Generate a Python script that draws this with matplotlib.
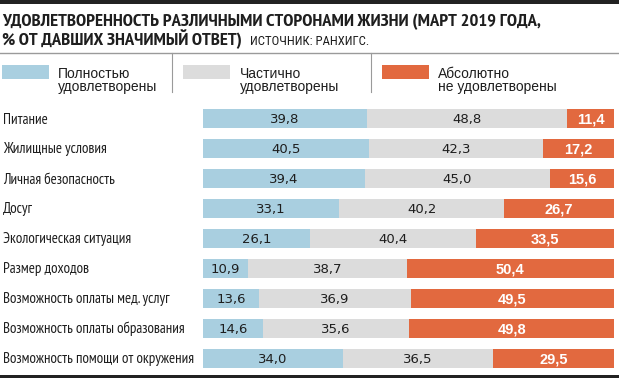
import matplotlib
matplotlib.use("Agg")
import matplotlib.pyplot as plt
from matplotlib.patches import Rectangle
from matplotlib.lines import Line2D
from matplotlib.transforms import blended_transform_factory, ScaledTranslation

categories = ["Питание", "Жилищные условия", "Личная безопасность", "Досуг",
              "Экологическая ситуация", "Размер доходов",
              "Возможность оплаты мед. услуг", "Возможность оплаты образования",
              "Возможность помощи от окружения"]
full = [39.8, 40.5, 39.4, 33.1, 26.1, 10.9, 13.6, 14.6, 34.0]
partial = [48.8, 42.3, 45.0, 40.2, 40.4, 38.7, 36.9, 35.6, 36.5]
none_ = [11.4, 17.2, 15.6, 26.7, 33.5, 50.4, 49.5, 49.8, 29.5]
series_names = [("Полностью", "удовлетворены"), ("Частично", "удовлетворены"),
                 ("Абсолютно", "не удовлетворены")]
title_line1 = "УДОВЛЕТВОРЕННОСТЬ РАЗЛИЧНЫМИ СТОРОНАМИ ЖИЗНИ (МАРТ 2019 ГОДА,"
title_line2 = "% ОТ ДАВШИХ ЗНАЧИМЫЙ ОТВЕТ)"
source = "ИСТОЧНИК: РАНХИГС."

BLUE = "#a9cfe0"
GRAY = "#dcdcdc"
ORANGE = "#e2693f"
colors = [BLUE, GRAY, ORANGE]
INK = "#1e1e1e"

TITLE_F = ["PT Sans Narrow", "DejaVu Sans"]
COND = ["Roboto Condensed", "DejaVu Sans"]
LABEL_F = ["PT Sans Narrow", "DejaVu Sans"]
ARIAL = ["Liberation Sans", "DejaVu Sans"]
NUM_F = ["DejaVu Sans"]

W, H = 619, 378
fig = plt.figure(figsize=(W / 100, H / 100), dpi=100)

def fx(px):
    return px / W

def fy(py):
    return 1 - py / H

# top thick rule
fig.add_artist(Rectangle((0, fy(4)), 1, 4 / H, transform=fig.transFigure, color="#222222", lw=0))
# bottom thick rule
fig.add_artist(Rectangle((0, fy(378)), 1, 3.5 / H, transform=fig.transFigure, color="#222222", lw=0))
# thin gray rule
fig.add_artist(Line2D([0, 1], [fy(52.5), fy(52.5)], transform=fig.transFigure, color="#9a9a9a", lw=1))

# title
fig.text(fx(2), fy(26.3), title_line1, family=TITLE_F, weight="bold", fontsize=13.3, color=INK, va="baseline")
fig.text(fx(2), fy(45), title_line2, family=TITLE_F, weight="bold", fontsize=13.3, color=INK, va="baseline")
fig.text(fx(250), fy(45), source, family=COND, fontsize=9.2, color=INK, va="baseline")

# legend
patch_x = [2, 183, 382]
text_x = [58, 240, 438]
for px, tx, c, (l1, l2) in zip(patch_x, text_x, colors, series_names):
    fig.add_artist(Rectangle((fx(px), fy(79)), 47 / W, 14 / H, transform=fig.transFigure, color=c, lw=0))
    fig.text(fx(tx), fy(78), l1, family=ARIAL, fontsize=10, color=INK, va="baseline")
    fig.text(fx(tx), fy(91.5), l2, family=ARIAL, fontsize=10, color=INK, va="baseline")
for sx in [171.5, 370.5]:
    fig.add_artist(Line2D([fx(sx), fx(sx)], [fy(53), fy(92)], transform=fig.transFigure, color="#9a9a9a", lw=0.8))

# bars
ax = fig.add_axes([fx(203), fy(373.5), (614 - 203) / W, 270 / H])
n = len(categories)
ys = list(range(n))
num_off = ax.transData + ScaledTranslation(0, -4.6 / 100, fig.dpi_scale_trans)
left = [0] * n
for vals, c in zip([full, partial, none_], colors):
    ax.barh(ys, vals, left=left, height=0.65, color=c, lw=0)
    for i, (l, v) in enumerate(zip(left, vals)):
        txt = f"{v:.1f}".replace(".", ",")
        if c == ORANGE:
            ax.text(l + v / 2, i, txt, ha="center", va="baseline", family=ARIAL, fontsize=10.5,
                    color="white", weight="bold", transform=num_off)
        else:
            ax.text(l + v / 2, i, txt, ha="center", va="baseline", family=NUM_F, fontsize=9.5,
                    color=INK, transform=num_off)
    left = [a + b for a, b in zip(left, vals)]
ax.set_xlim(0, 100)
ax.set_ylim(n - 0.5, -0.5)
ax.axis("off")

tr = blended_transform_factory(fig.transFigure, ax.transData) + ScaledTranslation(0, -5 / 100, fig.dpi_scale_trans)
for i, cat in enumerate(categories):
    ax.text(fx(3), i, cat, transform=tr, ha="left", va="baseline", family=LABEL_F, fontsize=10.8, color=INK)

fig.savefig("out.png", dpi=100)
